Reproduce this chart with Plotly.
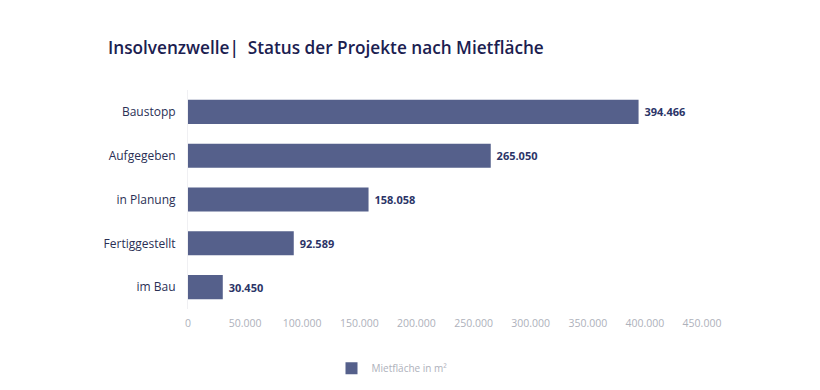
import plotly.graph_objects as go

categories = ["Baustopp", "Aufgegeben", "in Planung", "Fertiggestellt", "im Bau"]
values = [394466, 265050, 158058, 92589, 30450]
value_labels = ["394.466", "265.050", "158.058", "92.589", "30.450"]
tick_vals = [0, 50000, 100000, 150000, 200000, 250000, 300000, 350000, 400000, 450000]
tick_text = ["0", "50.000", "100.000", "150.000", "200.000", "250.000", "300.000", "350.000", "400.000", "450.000"]
series_name = "Mietfläche in m²"

bar_color = "#55608b"
fig = go.Figure()
fig.add_trace(go.Bar(
    y=categories, x=values, orientation="h", name=series_name,
    marker=dict(color=bar_color, line=dict(width=0)),
    width=0.55,
    text=[" " + t for t in value_labels], textposition="outside", cliponaxis=False,
    textfont=dict(family="Open Sans", size=11, color="#2b3467"),
    texttemplate="<b>%{text}</b>",
    showlegend=True,
))

fig.update_layout(
    width=820, height=390,
    paper_bgcolor="white", plot_bgcolor="white",
    margin=dict(l=180, r=126, t=82, b=89),
    font=dict(family="Open Sans", color="#2a2f55"),
    title=dict(text="Insolvenzwelle|  Status der Projekte nach Mietfläche",
               x=100/820, xanchor="left", y=1-40/390, yanchor="middle",
               font=dict(family="Open Sans", size=17.2, color="#1b2050", weight=600)),
    xaxis=dict(range=[0, 450000], tickvals=tick_vals, ticktext=tick_text,
               showgrid=False, zeroline=False, showline=False,
               tickfont=dict(size=10.5, color="#aeb1bb"), ticks="", ticklabelstandoff=6),
    yaxis=dict(categoryorder="array", categoryarray=categories[::-1],
               showgrid=False, zeroline=False, showline=True, linecolor="#f0f0f3", linewidth=1,
               tickfont=dict(size=12, color="#2a2f55"), ticks="", ticklabelstandoff=9),
    legend=dict(orientation="h", x=(384-180)/514, xanchor="center",
                y=-0.27, yanchor="middle",
                font=dict(size=10, color="#aeb1bb"), itemwidth=30),
    bargap=0.45,
)
fig.write_html("out.html")
